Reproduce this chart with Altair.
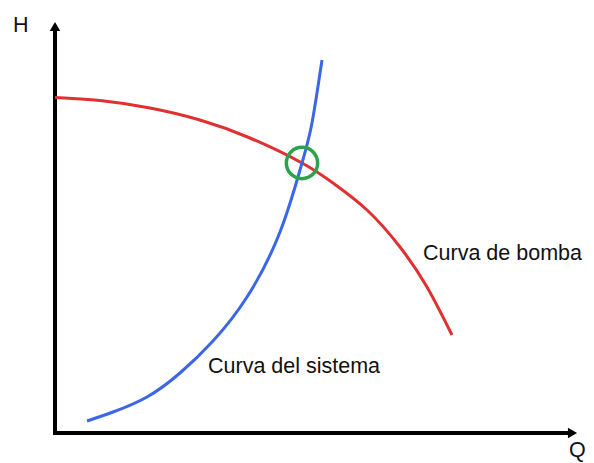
import altair as alt
import pandas as pd

# Pump curve (Curva de bomba): Q, H in arbitrary units
pump_q = [0.0, 0.9, 1.9, 2.9, 3.9, 4.94, 5.56, 6.24, 6.9, 7.44, 7.94]
pump_h = [6.71, 6.65, 6.5, 6.26, 5.9, 5.4, 5.0, 4.46, 3.72, 2.92, 1.96]

# System curve (Curva del sistema)
sys_q = [0.64, 1.16, 1.84, 2.5, 3.16, 3.84, 4.5, 4.94, 5.14, 5.34]
sys_h = [0.24, 0.42, 0.72, 1.2, 1.84, 2.72, 4.02, 5.4, 6.2, 7.46]

# Operating point
op_q = [4.94]
op_h = [5.4]

# Axis extents (arrow positions)
q_axis_end = 10.3
h_axis_end = 8.06
q_arrow = 10.35
h_arrow = 8.13

# Text labels
label_text = ["Curva de bomba", "Curva del sistema", "H", "Q"]
label_q = [7.36, 3.06, -0.84, 10.28]
label_h = [3.46, 1.2, 8.02, -0.47]

W, H = 578, 470
xs = alt.Scale(domain=[-0.94, -0.94 + W / 50], nice=False, zero=False)
ys = alt.Scale(domain=[8.5 - H / 50, 8.5], nice=False, zero=False)

def X(f):
    return alt.X(f, type="quantitative", scale=xs, axis=None)

def Y(f):
    return alt.Y(f, type="quantitative", scale=ys, axis=None)

pump = pd.DataFrame({"q": pump_q, "h": pump_h})
system = pd.DataFrame({"q": sys_q, "h": sys_h})
op = pd.DataFrame({"q": op_q, "h": op_h})
labels = pd.DataFrame({"t": label_text, "q": label_q, "h": label_h})

axes_df = pd.DataFrame({
    "q": [0.0, -0.04],
    "h": [-0.04, 0.0],
    "q2": [0.0, q_axis_end],
    "h2": [h_axis_end, 0.0],
})

axes = alt.Chart(axes_df).mark_rule(color="black", strokeWidth=4).encode(
    x=X("q"), y=Y("h"), x2="q2", y2="h2"
)

arrow_up = alt.Chart(pd.DataFrame({"q": [0.0], "h": [h_arrow]})).mark_point(
    shape="triangle-up", filled=True, size=110, color="black", opacity=1
).encode(x=X("q"), y=Y("h"))

arrow_right = alt.Chart(pd.DataFrame({"q": [q_arrow], "h": [0.0]})).mark_point(
    shape="triangle-right", filled=True, size=110, color="black", opacity=1
).encode(x=X("q"), y=Y("h"))

pump_line = alt.Chart(pump).mark_line(
    color="#e0302f", strokeWidth=3, interpolate="natural"
).encode(x=X("q"), y=Y("h"))

sys_line = alt.Chart(system).mark_line(
    color="#3b66e8", strokeWidth=3, interpolate="natural"
).encode(x=X("q"), y=Y("h"))

circle = alt.Chart(op).mark_point(
    shape="circle", filled=False, size=980, color="#2ca24c", strokeWidth=3.5, opacity=1
).encode(x=X("q"), y=Y("h"))

text = alt.Chart(labels).mark_text(
    align="left", baseline="alphabetic", font="Liberation Sans", fontSize=21.5, color="#111111"
).encode(x=X("q"), y=Y("h"), text="t")

chart = alt.layer(axes, arrow_up, arrow_right, pump_line, sys_line, circle, text).properties(
    width=W, height=H, autosize=alt.AutoSizeParams(type="none"), padding=0
).configure_view(stroke=None)

chart.save("out.html", embed_options={"renderer": "svg", "actions": False})
